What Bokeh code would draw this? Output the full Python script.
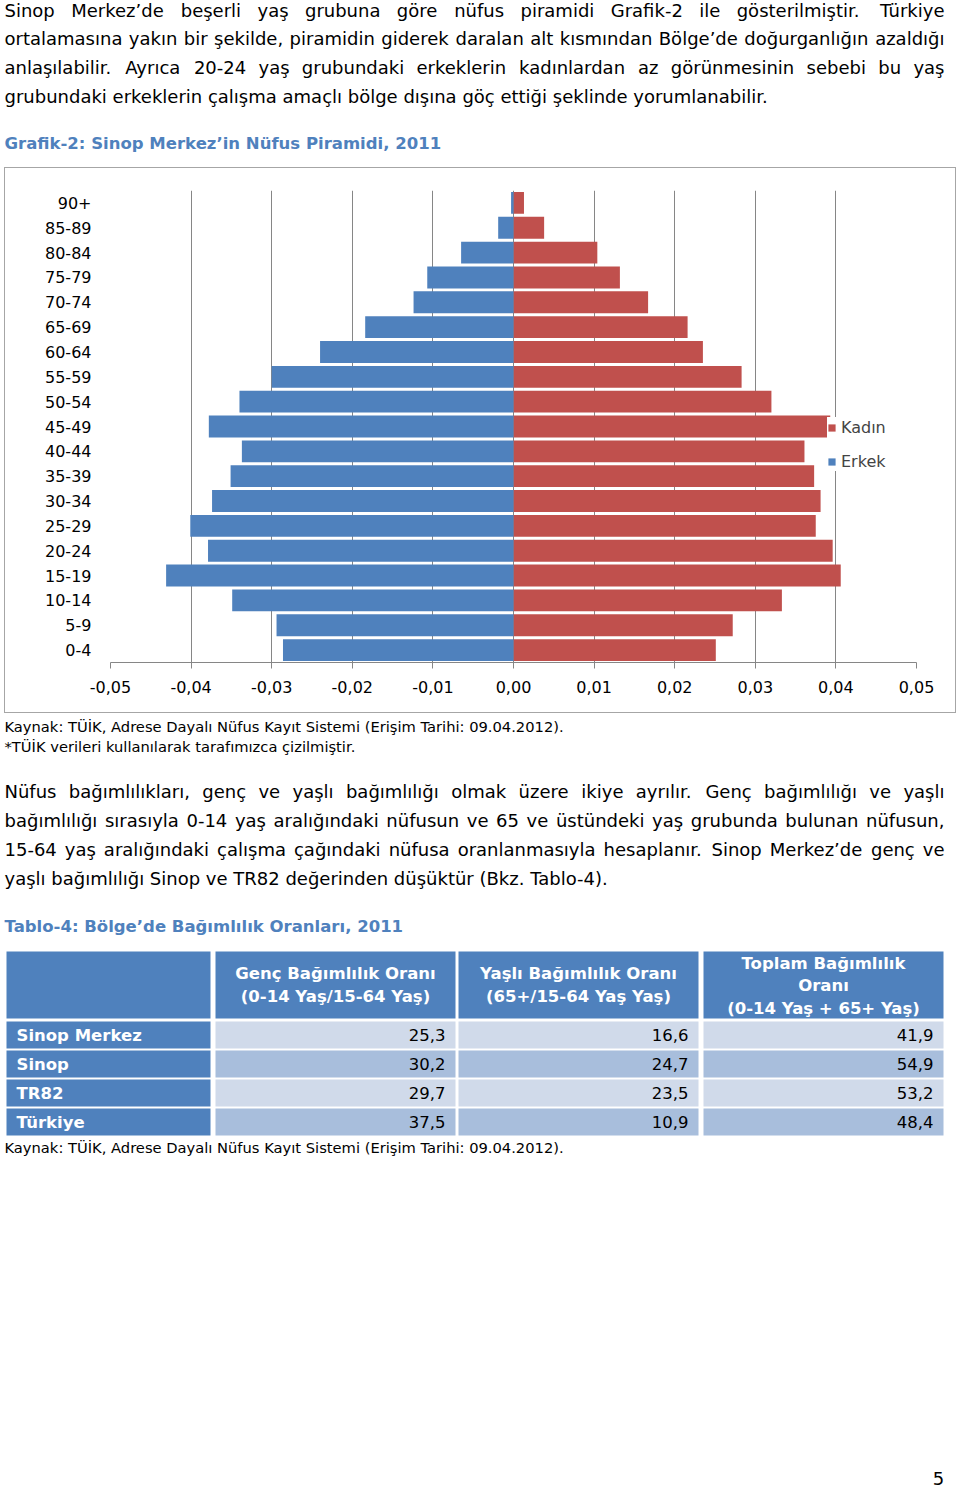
from bokeh.plotting import figure
from bokeh.layouts import column, row
from bokeh.models import FactorRange, FixedTicker, CustomJSTickFormatter, Range1d, Spacer
from bokeh.core.properties import value
from bokeh.embed import file_html
from bokeh.resources import INLINE

# ---------------- data ----------------
age_groups = ["0-4", "5-9", "10-14", "15-19", "20-24", "25-29", "30-34", "35-39", "40-44",
              "45-49", "50-54", "55-59", "60-64", "65-69", "70-74", "75-79", "80-84", "85-89", "90+"]
erkek = [-0.0286, -0.0294, -0.0349, -0.0431, -0.0379, -0.0401, -0.0374, -0.0351, -0.0337,
         -0.0378, -0.0340, -0.0300, -0.0240, -0.0184, -0.0124, -0.0107, -0.0065, -0.0019, -0.0003]
kadin = [0.0251, 0.0272, 0.0333, 0.0406, 0.0396, 0.0375, 0.0381, 0.0373, 0.0361,
         0.0393, 0.0320, 0.0283, 0.0235, 0.0216, 0.0167, 0.0132, 0.0104, 0.0038, 0.0013]
x_ticks = [-0.05, -0.04, -0.03, -0.02, -0.01, 0.0, 0.01, 0.02, 0.03, 0.04, 0.05]
x_tick_labels = ["-0,05", "-0,04", "-0,03", "-0,02", "-0,01", "0,00", "0,01", "0,02", "0,03", "0,04", "0,05"]

table_regions = ["Sinop Merkez", "Sinop", "TR82", "Türkiye"]
genc_oran = [25.3, 30.2, 29.7, 37.5]
yasli_oran = [16.6, 24.7, 23.5, 10.9]
toplam_oran = [41.9, 54.9, 53.2, 48.4]
table_headers = [["Genç Bağımlılık Oranı", "(0-14 Yaş/15-64 Yaş)"],
                 ["Yaşlı Bağımlılık Oranı", "(65+/15-64 Yaş Yaş)"],
                 ["Toplam Bağımlılık", "Oranı", "(0-14 Yaş + 65+ Yaş)"]]

para1 = ["Sinop Merkez’de beşerli yaş grubuna göre nüfus piramidi Grafik-2 ile gösterilmiştir. Türkiye",
         "ortalamasına yakın bir şekilde, piramidin giderek daralan alt kısmından Bölge’de doğurganlığın azaldığı",
         "anlaşılabilir. Ayrıca 20-24 yaş grubundaki erkeklerin kadınlardan az görünmesinin sebebi bu yaş",
         "grubundaki erkeklerin çalışma amaçlı bölge dışına göç ettiği şeklinde yorumlanabilir."]
para2 = ["Nüfus bağımlılıkları, genç ve yaşlı bağımlılığı olmak üzere ikiye ayrılır. Genç bağımlılığı ve yaşlı",
         "bağımlılığı sırasıyla 0-14 yaş aralığındaki nüfusun ve 65 ve üstündeki yaş grubunda bulunan nüfusun,",
         "15-64 yaş aralığındaki çalışma çağındaki nüfusa oranlanmasıyla hesaplanır. Sinop Merkez’de genç ve",
         "yaşlı bağımlılığı Sinop ve TR82 değerinden düşüktür (Bkz. Tablo-4)."]
chart_title = "Grafik-2: Sinop Merkez’in Nüfus Piramidi, 2011"
table_title = "Tablo-4: Bölge’de Bağımlılık Oranları, 2011"
source_1 = "Kaynak: TÜİK, Adrese Dayalı Nüfus Kayıt Sistemi (Erişim Tarihi: 09.04.2012)."
source_2 = "*TÜİK verileri kullanılarak tarafımızca çizilmiştir."
page_no = "5"

# ---------------- styles ----------------
FONT = "DejaVu Sans"
BLUE = "#4F81BD"
RED = "#C0504D"
GRID = "#868686"
BASE_SHIFT = 6.5  # visual-centre placement of texts

W_REG = {' ': .318, 'a': .613, 'b': .635, 'c': .550, 'd': .635, 'e': .615, 'f': .352, 'g': .635, 'h': .634,
         'i': .278, 'j': .278, 'k': .579, 'l': .278, 'm': .974, 'n': .634, 'o': .612, 'p': .635, 'q': .635,
         'r': .411, 's': .521, 't': .392, 'u': .634, 'v': .592, 'w': .818, 'x': .592, 'y': .592, 'z': .525,
         'ç': .550, 'ğ': .635, 'ı': .278, 'ö': .612, 'ş': .521, 'ü': .634,
         'A': .684, 'B': .686, 'C': .698, 'D': .770, 'E': .632, 'F': .575, 'G': .775, 'H': .752, 'I': .295,
         'İ': .295, 'K': .656, 'L': .557, 'M': .863, 'N': .748, 'O': .787, 'P': .603, 'R': .695, 'S': .635,
         'T': .611, 'U': .732, 'Ü': .732, 'Y': .611, 'Z': .685,
         ',': .318, '.': .318, ':': .337, '-': .361, '(': .390, ')': .390, '/': .337, '+': .838, '’': .318,
         '*': .500}
for d in "0123456789":
    W_REG[d] = .636


def tw(s, size):
    return sum(W_REG.get(c, .6) for c in s) * size


def no_align(p):
    try:
        p.frame_align = False
    except Exception:
        pass


def page_fig(h, y0):
    p = figure(width=960, height=h, x_range=Range1d(0, 960), y_range=Range1d(y0 + h, y0),
               output_backend="svg", toolbar_location=None, x_axis_location=None, y_axis_location=None,
               min_border_left=0, min_border_right=0, min_border_top=0, min_border_bottom=0)
    p.outline_line_color = None
    p.grid.visible = False
    no_align(p)
    return p


def put(p, x, y, s, size, color="black", bold=False, align="left"):
    p.text(x=[x], y=[y - BASE_SHIFT], text=[s], text_font=value(FONT), text_font_size=f"{size}px",
           text_font_style="bold" if bold else "normal", text_color=color,
           text_align=align, text_baseline="alphabetic")


def paragraph(p, lines, x0, x1, y_first, step, size):
    for i, line in enumerate(lines):
        yb = y_first + i * step
        if i == len(lines) - 1:
            put(p, x0, yb, line, size)
            continue
        words = line.split(" ")
        widths = [tw(w, size) for w in words]
        gap = (x1 - x0 - sum(widths)) / (len(words) - 1)
        xs, x = [], x0
        for w in widths:
            xs.append(x)
            x += w + gap
        p.text(x=xs[:-1], y=[yb - BASE_SHIFT] * (len(words) - 1), text=words[:-1], text_font=value(FONT),
               text_font_size=f"{size}px", text_color="black", text_align="left", text_baseline="alphabetic")
        put(p, x1, yb, words[-1], size, align="right")


# ---------------- top block (page y 0..167) ----------------
pA = page_fig(167, 0)
paragraph(pA, para1, 4, 944, 16, 28.8, 18)
put(pA, 4, 149.5, chart_title, 16.5, color=BLUE, bold=True)

# ---------------- pyramid (page x 4..956, y 167..713) ----------------
pB = figure(width=952, height=546, y_range=FactorRange(factors=age_groups), x_range=Range1d(-0.05, 0.05),
            output_backend="svg", toolbar_location=None,
            min_border_left=105, min_border_right=41, min_border_top=22, min_border_bottom=52,
            styles={"border": "1px solid #a6a6a6"})
no_align(pB)
pB.border_fill_alpha = 0
pB.hbar(y=age_groups, left=0, right=kadin, height=0.88, fill_color=RED, line_color=None, legend_label="Kadın")
pB.hbar(y=age_groups, left=erkek, right=0, height=0.88, fill_color=BLUE, line_color=None, legend_label="Erkek")

pB.outline_line_color = None
pB.ygrid.grid_line_color = None
pB.xgrid.grid_line_color = GRID
pB.xgrid.ticker = FixedTicker(ticks=x_ticks)
pB.xaxis.ticker = FixedTicker(ticks=x_ticks)
pB.xaxis.formatter = CustomJSTickFormatter(args=dict(tick_vals=x_ticks, tick_texts=x_tick_labels), code="""
let best = 0;
for (let i = 0; i < tick_vals.length; i++) {
  if (Math.abs(tick_vals[i] - tick) < Math.abs(tick_vals[best] - tick)) best = i;
}
return tick_texts[best];
""")
pB.xaxis.axis_line_color = GRID
pB.xaxis.major_tick_line_color = GRID
pB.xaxis.major_tick_out = 6
pB.xaxis.major_tick_in = 0
pB.xaxis.minor_tick_line_color = None
pB.xaxis.major_label_standoff = 12
pB.xaxis.major_label_text_font = FONT
pB.xaxis.major_label_text_font_size = "16px"
pB.xaxis.major_label_text_color = "black"
pB.yaxis.axis_line_color = None
pB.yaxis.major_tick_line_color = None
pB.yaxis.minor_tick_line_color = None
pB.yaxis.major_label_standoff = 13
pB.yaxis.major_label_text_font = FONT
pB.yaxis.major_label_text_font_size = "16px"
pB.yaxis.major_label_text_color = "black"

leg = pB.legend[0]
leg.location = (717, 191)
leg.padding = 2
leg.margin = 0
leg.border_line_color = None
leg.background_fill_color = "white"
leg.background_fill_alpha = 1
leg.glyph_width = 9
leg.glyph_height = 9
leg.label_standoff = 5
leg.label_height = 20
leg.spacing = 14
leg.label_text_font = FONT
leg.label_text_font_size = "16px"

# ---------------- bottom block (page y 713..1489) ----------------
pC = page_fig(776, 713)
put(pC, 4, 732.5, source_1, 14.7)
put(pC, 4, 752.5, source_2, 14.7)
paragraph(pC, para2, 4, 944, 797.5, 29, 18)
put(pC, 4, 932, table_title, 16.5, color=BLUE, bold=True)

col_lr = [(6, 210), (215, 455), (458, 698), (703, 943)]
head_top, head_bot = 951, 1018
row_top0, row_pitch, row_h = 1021, 29, 27
light, dark = "#D0DAEA", "#A8BEDC"

pC.quad(left=[c[0] for c in col_lr], right=[c[1] for c in col_lr], top=[head_top] * 4, bottom=[head_bot] * 4,
        fill_color=BLUE, line_color=None)
n = len(table_regions)
tops = [row_top0 + i * row_pitch for i in range(n)]
pC.quad(left=[col_lr[0][0]] * n, right=[col_lr[0][1]] * n, top=tops, bottom=[t + row_h for t in tops],
        fill_color=BLUE, line_color=None)
for j in range(1, 4):
    pC.quad(left=[col_lr[j][0]] * n, right=[col_lr[j][1]] * n, top=tops, bottom=[t + row_h for t in tops],
            fill_color=[light if i % 2 == 0 else dark for i in range(n)], line_color=None)

for j, lines in enumerate(table_headers):
    cx = (col_lr[j + 1][0] + col_lr[j + 1][1]) / 2
    ys = [979, 1002] if len(lines) == 2 else [969, 991, 1014]
    for s, yb in zip(lines, ys):
        put(pC, cx, yb, s, 16.5, color="white", bold=True, align="center")

cols = [genc_oran, yasli_oran, toplam_oran]
for i, reg in enumerate(table_regions):
    yb = tops[i] + 20
    put(pC, 16, yb, reg, 16.5, color="white", bold=True)
    for j, vals in enumerate(cols):
        put(pC, col_lr[j + 1][1] - 10, yb, f"{vals[i]:.1f}".replace(".", ","), 16.5, align="right")

put(pC, 4, 1153, source_1, 14.7)
put(pC, 938, 1484, page_no, 18, align="center")

mid = row(Spacer(width=4, height=546), pB, Spacer(width=4, height=546), spacing=0)
layout = column(pA, mid, pC, spacing=0)
open("out.html", "w").write(file_html(layout, INLINE))
